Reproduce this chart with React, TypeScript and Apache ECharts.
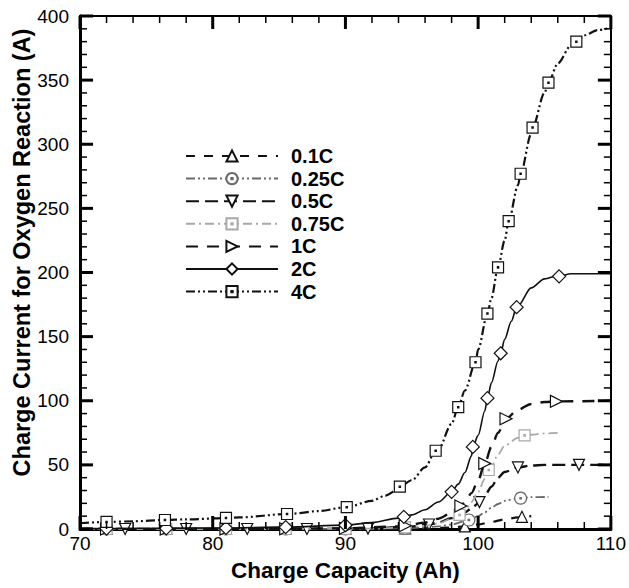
import React, { useEffect, useRef } from "react";
import * as echarts from "echarts";

// ---- data ----
const seriesNames = ["0.1C", "0.25C", "0.5C", "0.75C", "1C", "2C", "4C"];

const curve01C = [[70, 0], [90, 0.2], [96, 0.6], [98, 1.2], [99, 2], [100, 3.5], [101, 5.5], [102, 7.5], [103, 9], [104, 10]];
const marks01C = [[72, 0.1], [76.5, 0.1], [81, 0.1], [85.5, 0.1], [90, 0.2], [94.5, 0.4], [99, 2], [103.3, 9.5]];

const curve025C = [[70, 0], [92, 0.3], [96, 1.2], [97, 2], [98, 3.5], [99, 6], [100, 10], [100.5, 13], [101, 16.5], [101.5, 19.5], [102, 22], [103, 24], [104, 24.8], [105.3, 25]];
const marks025C = [[72, 0], [76.5, 0], [81, 0], [85.5, 0], [90, 0.1], [94.5, 0.6], [99.3, 7], [103.2, 24]];

const curve05C = [[70, 0], [92, 0.5], [95, 2], [97, 5], [98, 8.5], [99, 13], [99.5, 16], [100, 20], [100.5, 26], [101, 33], [101.5, 40], [102, 44.5], [103, 48], [104, 49.5], [105, 50], [110, 50]];
const marks05C = [[73.4, 0], [78, 0], [82.6, 0], [87.1, 0], [91.7, 0.3], [96.3, 3.5], [100.1, 21], [103, 48], [107.6, 50]];

const curve075C = [[70, 0], [92, 0.3], [96, 2.5], [97, 4.5], [98, 8], [99, 14], [99.5, 21], [100, 29], [100.5, 39], [101, 49], [101.5, 58], [102, 65], [103, 71], [104, 73.5], [105, 74.5], [106.2, 75]];
const marks075C = [[72, 0], [76.5, 0], [81, 0], [85.5, 0], [90, 0.2], [94.5, 1.2], [98.6, 11], [100.8, 46], [103.5, 73]];

const curve1C = [[70, 0], [90, 0.5], [94, 2], [96, 5], [97, 8], [98, 12.5], [99, 21], [99.5, 28], [100, 38], [100.5, 51], [101, 64], [101.5, 75], [102, 84], [103, 93], [104, 97.5], [105, 99], [106, 99.5], [110, 100]];
const marks1C = [[72, 0], [76.5, 0], [81, 0], [85.5, 0.2], [90, 0.5], [94.5, 2.5], [98.7, 18], [100.5, 51], [102.1, 86], [105.9, 99.5]];

const curve2C = [[70, 0.3], [80, 0.8], [85, 1.5], [90, 3], [92, 5], [94, 8.5], [95, 11], [96, 15], [97, 21], [98, 29], [98.5, 35], [99, 44], [99.5, 57], [100, 73], [100.5, 92], [101, 114], [101.5, 131], [102, 148], [102.5, 162], [103, 174], [104, 188], [105, 195], [106, 197.5], [107, 199], [110, 199]];
const marks2C = [[72, 0.3], [76.5, 0.5], [81, 0.8], [85.5, 1.5], [90, 3], [94.4, 9.5], [98, 29], [99.6, 64], [100.7, 102], [101.7, 137], [102.9, 173], [106.1, 197]];

const curve4C = [[70, 4.5], [74, 6], [78, 7.5], [82, 9], [86, 12], [88, 14], [90, 17], [92, 22], [93, 26], [94, 31], [95, 38], [96, 48], [97, 62], [98, 82], [99, 108], [100, 140], [101, 180], [102, 225], [103, 268], [104, 308], [105, 340], [106, 363], [107, 377], [108, 385], [109, 389], [110, 391]];
const marks4C = [[72, 5.5], [76.4, 7], [81, 8.6], [85.6, 11.7], [90.1, 17], [94.1, 33], [96.8, 61], [98.5, 95], [99.8, 130], [100.7, 168], [101.5, 204], [102.3, 240], [103.2, 277], [104.1, 313], [105.3, 348], [107.4, 380]];

const xMin = 70, xMax = 110, xStep = 10;
const yMin = 0, yMax = 400, yStep = 50;
// tick positions (major ticks are the labelled values, minor ones between them)
const xTickValues = [70, 72, 74, 76, 78, 80, 82, 84, 86, 88, 90, 92, 94, 96, 98, 100, 102, 104, 106, 108, 110];
const yTickValues = [0, 10, 20, 30, 40, 50, 60, 70, 80, 90, 100, 110, 120, 130, 140, 150, 160, 170, 180, 190, 200, 210, 220, 230, 240, 250, 260, 270, 280, 290, 300, 310, 320, 330, 340, 350, 360, 370, 380, 390, 400];

// ---- styles ----
const SYM_SQUARE_DOT = "path://M0,0H10V10H0Z M4.4,4.4H5.6V5.6H4.4Z";
const SYM_CIRCLE_DOT = "path://M5,0A5,5,0,1,1,4.999,0Z M4.4,4.4H5.6V5.6H4.4Z";
const SYM_TRI_DOWN = "path://M0,0L10,0L5,9Z";
const SYM_TRI_RIGHT = "path://M0,0L9,5L0,10Z";

const styles = [
  { symbol: "triangle", size: 11, color: "#111", width: 2.2, dash: [9, 9] },
  { symbol: SYM_CIRCLE_DOT, size: 12, color: "#6a6a6a", width: 1.8, dash: [9, 3, 2, 3, 2, 3] },
  { symbol: SYM_TRI_DOWN, size: 11, color: "#111", width: 2.4, dash: [13, 6] },
  { symbol: SYM_SQUARE_DOT, size: 11, color: "#a8a8a8", width: 1.8, dash: [9, 4, 2, 4] },
  { symbol: SYM_TRI_RIGHT, size: 12, color: "#111", width: 2.4, dash: [12, 9] },
  { symbol: "diamond", size: 13, color: "#111", width: 1.6, dash: "solid" },
  { symbol: SYM_SQUARE_DOT, size: 11, color: "#111", width: 2.2, dash: [9, 3, 2, 3, 2, 3] },
];

const curves = [curve01C, curve025C, curve05C, curve075C, curve1C, curve2C, curve4C];
const marks = [marks01C, marks025C, marks05C, marks075C, marks1C, marks2C, marks4C];

function buildData(curve: number[][], mk: number[][]) {
  const mx = new Set(mk.map((m) => m[0]));
  const pts: any[] = curve.filter((p) => !mx.has(p[0])).map((p) => ({ value: p, symbol: "none" }));
  const ms: any[] = mk.map((p) => ({ value: p }));
  return [...pts, ...ms].sort((a, b) => a.value[0] - b.value[0]);
}

const FONT = "'Liberation Sans', Arial, Helvetica, sans-serif";
const MAJOR_LEN = 13, MINOR_LEN = 7;
const MAJOR_W = 3, MINOR_W = 1.5;

export default function App() {
  const ref = useRef<HTMLDivElement>(null);
  useEffect(() => {
    document.body.style.margin = "0";
    const chart = echarts.init(ref.current!, null, { renderer: "svg" });
    const makeAxis = (showLabel: boolean, lineW: number) => ({
      axisLine: { show: true, onZero: false, lineStyle: { color: "#000", width: lineW } },
      axisTick: { show: false },
      minorTick: { show: false },
      splitLine: { show: false },
      axisLabel: { show: showLabel, color: "#000", fontSize: 19, fontFamily: FONT, margin: 5 },
    });
    const series: any[] = seriesNames.map((name, i) => {
      const s = styles[i];
      return {
        type: "line",
        name,
        data: buildData(curves[i], marks[i]),
        smooth: 0.3,
        smoothMonotone: "x",
        showSymbol: true,
        symbol: s.symbol,
        symbolSize: s.size,
        lineStyle: { color: s.color, width: s.width, type: s.dash },
        itemStyle: { color: "#fff", borderColor: s.color, borderWidth: 1.2 },
        z: 2 + i,
      };
    });
    const leftY = makeAxis(true, 3);
    leftY.axisLabel.margin = 11;
    chart.setOption({
      animation: false,
      backgroundColor: "#fff",
      grid: { left: 80, right: 17, top: 16, bottom: 59 },
      legend: {
        orient: "vertical",
        left: 180,
        top: 141,
        itemWidth: 92,
        itemHeight: 14,
        itemGap: 2.6,
        data: seriesNames,
        textStyle: { fontSize: 20, fontWeight: "bold", color: "#000", fontFamily: FONT, padding: [0, 0, 0, 8] },
      },
      xAxis: [
        {
          type: "value", min: xMin, max: xMax, interval: xStep, position: "bottom",
          ...makeAxis(true, 3),
          name: "Charge Capacity (Ah)", nameLocation: "middle", nameGap: 30, nameMoveOverlap: false,
          nameTextStyle: { fontSize: 22.5, fontWeight: "bold", color: "#000", fontFamily: FONT },
        },
        {
          type: "value", min: xMin, max: xMax, interval: xStep, position: "top",
          ...makeAxis(false, 2),
        },
      ],
      yAxis: [
        {
          type: "value", min: yMin, max: yMax, interval: yStep, position: "left",
          ...leftY,
          name: "Charge Current for Oxygen Reaction (A)", nameLocation: "middle", nameGap: 46, nameMoveOverlap: false,
          nameTextStyle: { fontSize: 23.5, fontWeight: "bold", color: "#000", fontFamily: FONT, padding: [0, 0, 0, 40] },
        },
        {
          type: "value", min: yMin, max: yMax, interval: yStep, position: "right",
          ...makeAxis(false, 2),
        },
      ],
      series,
    });

    // inward tick marks on all four sides, positioned through the axes' own scales
    const px = (v: number) => chart.convertToPixel({ xAxisIndex: 0 }, v) as number;
    const py = (v: number) => chart.convertToPixel({ yAxisIndex: 0 }, v) as number;
    const xb = py(yMin), xt = py(yMax), yl = px(xMin), yr = px(xMax);
    const ticks: any[] = [];
    xTickValues.forEach((v) => {
      const major = v % xStep === 0;
      const len = major ? MAJOR_LEN : MINOR_LEN;
      const w = major ? MAJOR_W : MINOR_W;
      const x = px(v);
      ticks.push({ type: "rect", z: 100, silent: true, shape: { x: x - w / 2, y: xb - len, width: w, height: len }, style: { fill: "#000" } });
      ticks.push({ type: "rect", z: 100, silent: true, shape: { x: x - w / 2, y: xt, width: w, height: len }, style: { fill: "#000" } });
    });
    yTickValues.forEach((v) => {
      const major = v % yStep === 0;
      const len = major ? MAJOR_LEN : MINOR_LEN;
      const w = major ? MAJOR_W : MINOR_W;
      const y = py(v);
      ticks.push({ type: "rect", z: 100, silent: true, shape: { x: yl, y: y - w / 2, width: len, height: w }, style: { fill: "#000" } });
      ticks.push({ type: "rect", z: 100, silent: true, shape: { x: yr - len, y: y - w / 2, width: len, height: w }, style: { fill: "#000" } });
    });
    chart.setOption({ graphic: ticks });
    return () => chart.dispose();
  }, []);
  return <div ref={ref} style={{ width: 629, height: 588 }} />;
}
